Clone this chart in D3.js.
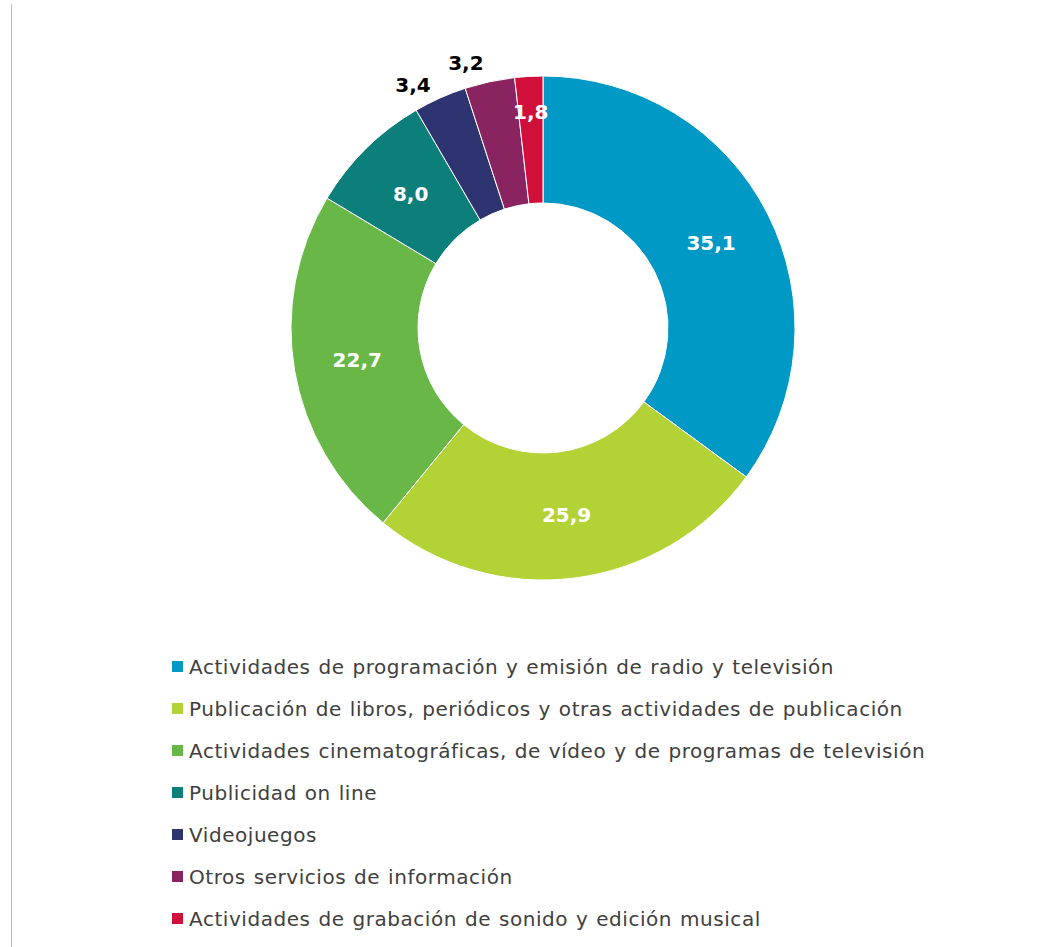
<!DOCTYPE html>
<html>
<head>
<meta charset="utf-8">
<script src="https://cdn.jsdelivr.net/npm/d3@7"></script>
<style>
  body { margin: 0; background: #fff; }
  svg { display: block; font-family: "DejaVu Sans", Verdana, sans-serif; }
</style>
</head>
<body>
<svg id="chart"></svg>
<script>
// Data
const categories = [
    "Actividades de programación y emisión de radio y televisión",
    "Publicación de libros, periódicos y otras actividades de publicación",
    "Actividades cinematográficas, de vídeo y de programas de televisión",
    "Publicidad on line",
    "Videojuegos",
    "Otros servicios de información",
    "Actividades de grabación de sonido y edición musical"
];
const values = [35.1, 25.9, 22.7, 8.0, 3.4, 3.2, 1.8];
const colors = ["#0099c6", "#b3d236", "#69b746", "#0c7f7b", "#2e346f", "#8a2461", "#d0103a"];

// Dimensions
const width = 1043, height = 947;
const cx = 543, cy = 328;
const outerR = 252, innerR = 125;

const svg = d3.select("#chart")
    .attr("width", width)
    .attr("height", height);

// Gray frame line on the left
svg.append("line")
    .attr("x1", 11.5).attr("x2", 11.5)
    .attr("y1", 4).attr("y2", height)
    .attr("stroke", "#bcbcbc")
    .attr("stroke-width", 1);

const data = categories.map((c, i) => ({ name: c, value: values[i], color: colors[i] }));

const pie = d3.pie()
    .value(d => d.value)
    .sort(null);

const arc = d3.arc()
    .innerRadius(innerR)
    .outerRadius(outerR);

const g = svg.append("g")
    .attr("transform", `translate(${cx},${cy})`);

const arcs = pie(data);

g.selectAll(".slice")
    .data(arcs)
    .enter().append("path")
    .attr("class", "slice")
    .attr("d", arc)
    .attr("fill", d => d.data.color)
    .attr("stroke", "#fff")
    .attr("stroke-width", 1);

// Label placement: small slices get labels pushed outwards
function labelPos(d) {
    let a = (d.startAngle + d.endAngle) / 2;
    let r = (innerR + outerR) / 2;
    if (d.data.value < 2) r = 217;
    else if (d.data.value < 5) { r = 276; a -= 4 * Math.PI / 180; }
    return [Math.sin(a) * r, -Math.cos(a) * r];
}

g.selectAll(".label")
    .data(arcs)
    .enter().append("text")
    .attr("class", "label")
    .attr("x", d => labelPos(d)[0])
    .attr("y", d => labelPos(d)[1])
    .attr("dy", "0.36em")
    .attr("text-anchor", "middle")
    .attr("font-size", 20)
    .attr("font-weight", "bold")
    .attr("fill", d => (d.data.value < 5 && d.data.value >= 2) ? "#000" : "#fff")
    .text(d => d3.format(".1f")(d.data.value).replace(".", ","));

// Legend
const legend = svg.append("g")
    .attr("transform", "translate(172,667)");

const item = legend.selectAll(".legend-item")
    .data(data)
    .enter().append("g")
    .attr("class", "legend-item")
    .attr("transform", (d, i) => `translate(0,${i * 42})`);

item.append("rect")
    .attr("x", 0)
    .attr("y", -6)
    .attr("width", 11)
    .attr("height", 11)
    .attr("fill", d => d.color);

item.append("text")
    .attr("x", 17)
    .attr("y", 0)
    .attr("dy", "0.35em")
    .attr("font-size", 20)
    .attr("letter-spacing", 0.55)
    .attr("word-spacing", 1)
    .attr("fill", "#404040")
    .text(d => d.name);
</script>
</body>
</html>
